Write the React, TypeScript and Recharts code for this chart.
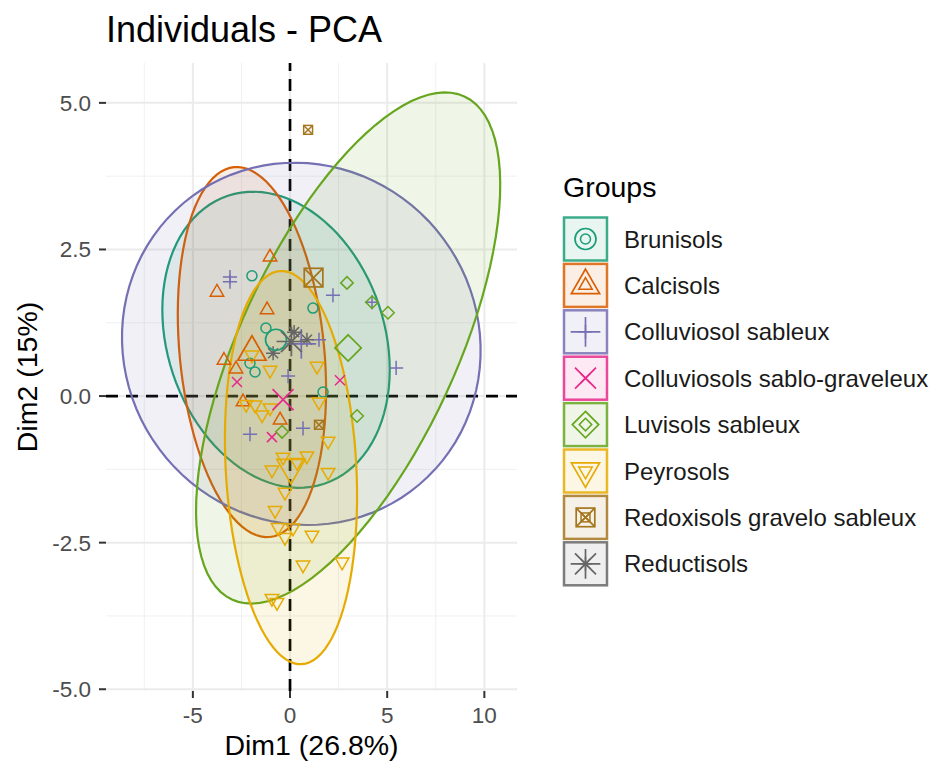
import { ScatterChart, Scatter, XAxis, YAxis, CartesianGrid, ReferenceLine } from "recharts";

const FONT = '"Liberation Sans", Arial, Helvetica, sans-serif';

const groups = [
  "Brunisols",
  "Calcisols",
  "Colluviosol sableux",
  "Colluviosols sablo-graveleux",
  "Luvisols sableux",
  "Peyrosols",
  "Redoxisols gravelo sableux",
  "Reductisols",
];
const groupColors = ["#1B9E77", "#D95F02", "#7570B3", "#E7298A", "#66A61E", "#E6AB02", "#A6761D", "#666666"];
const groupShapes = ["circle", "triangle", "plus", "cross", "diamond", "triangleDown", "squareX", "asterisk"];

// individuals, [Dim1, Dim2]
const brunisols = [[-1.96, 2.05], [-1.24, 1.16], [-2.06, 0.56], [-1.8, 0.41], [1.18, 1.5], [1.7, 0.07]];
const calcisols = [[-1.03, 2.37], [-3.76, 1.77], [-1.18, 1.47], [-3.4, 0.61], [-2.78, 0.46], [-2.42, -0.1], [-0.51, -0.41]];
const colluviosolSableux = [
  [-3.09, 2.03], [-3.09, 1.95], [2.21, 1.72], [4.22, 1.6], [5.46, 0.48],
  [1.49, 0.96], [-0.1, 0.34], [-2.06, -0.65], [0.67, -0.55],
];
const colluviosolsSabloGraveleux = [[-2.73, 0.24], [2.57, 0.27], [-0.93, -0.7]];
const luvisolsSableux = [[2.93, 1.93], [4.22, 1.6], [5.04, 1.42], [3.45, -0.34], [-0.41, -0.61]];
const peyrosols = [
  [-1.03, 0.44], [1.39, 0.51], [1.49, -0.1], [-1.8, -0.15], [-1.44, -0.32], [-1.03, -0.2],
  [1.96, -0.77], [-0.36, -1.04], [0.36, -1.13], [0.87, -1.02], [-0.93, -1.26], [1.96, -1.3],
  [-0.26, -1.64], [-0.77, -1.95], [-0.62, -2.24], [0.15, -2.25], [-0.26, -2.41], [1.13, -2.37],
  [0.67, -2.88], [2.68, -2.83], [-0.93, -3.45], [-0.67, -3.52], [-1.96, 0.7], [-2.26, -0.14],
];
const redoxisols = [[0.93, 4.54], [1.49, -0.49]];
const reductisols = [[-0.87, 0.73], [0.87, 0.96], [0.21, 1.09]];

const groupPoints = [
  brunisols, calcisols, colluviosolSableux, colluviosolsSabloGraveleux,
  luvisolsSableux, peyrosols, redoxisols, reductisols,
];

// group barycentres (big symbols, also the ellipse centres)
const groupMeans = [
  [-0.72, 0.96], [-1.96, 0.75], [0.58, 0.89], [-0.36, -0.06],
  [2.99, 0.82], [0.05, -1.22], [1.21, 2.02], [0.07, 0.93],
];

// concentration ellipses: conjugate semi-axes in Dim1/Dim2 units
const ellipseGroups = [0, 1, 2, 4, 5];
const ellipseAxisA = [[2.48, -2.456], [0.917, -3.154], [5.625, -2.516], [5.98, 4.29], [0.549, -3.353]];
const ellipseAxisB = [[5.3, 0.586], [3.704, 0.118], [7.315, 1.792], [-5.05, 0.772], [3.356, 0.0602]];

const xTicks = [-5, 0, 5, 10];
const xMinor = [-7.5, -2.5, 2.5, 7.5];
const yTicks = [-5, -2.5, 0, 2.5, 5];
const yMinor = [-3.75, -1.25, 1.25, 3.75];

const ELLIPSE_STEPS = 100;

function ellipseOutline(k: number) {
  const [cx, cy] = groupMeans[ellipseGroups[k]];
  const a = ellipseAxisA[k];
  const b = ellipseAxisB[k];
  const pts = [];
  for (let i = 0; i < ELLIPSE_STEPS; i++) {
    const t = (2 * Math.PI * i) / ELLIPSE_STEPS;
    pts.push({ x: cx + a[0] * Math.cos(t) + b[0] * Math.sin(t), y: cy + a[1] * Math.cos(t) + b[1] * Math.sin(t) });
  }
  return pts;
}

function Marker({ kind, cx, cy, r, color, sw = 1.5 }: any) {
  const common = { stroke: color, strokeWidth: sw, fill: "none" };
  switch (kind) {
    case "circle":
      return <circle cx={cx} cy={cy} r={r} {...common} />;
    case "triangle": {
      const t = r * 1.5551, w = r * 1.3468, b = r * 0.7776;
      return <polygon points={`${cx},${cy - t} ${cx + w},${cy + b} ${cx - w},${cy + b}`} {...common} />;
    }
    case "triangleDown": {
      const t = r * 1.5551, w = r * 1.3468, b = r * 0.7776;
      return <polygon points={`${cx},${cy + t} ${cx + w},${cy - b} ${cx - w},${cy - b}`} {...common} />;
    }
    case "plus": {
      const h = r * 1.414;
      return <path d={`M${cx - h},${cy}H${cx + h}M${cx},${cy - h}V${cy + h}`} {...common} />;
    }
    case "cross":
      return <path d={`M${cx - r},${cy - r}L${cx + r},${cy + r}M${cx - r},${cy + r}L${cx + r},${cy - r}`} {...common} />;
    case "diamond": {
      const d = r * 1.2533;
      return <polygon points={`${cx},${cy - d} ${cx + d},${cy} ${cx},${cy + d} ${cx - d},${cy}`} {...common} />;
    }
    case "squareX": {
      const s = r * 0.8862;
      return (
        <g {...common}>
          <rect x={cx - s} y={cy - s} width={2 * s} height={2 * s} />
          <path d={`M${cx - s},${cy - s}L${cx + s},${cy + s}M${cx - s},${cy + s}L${cx + s},${cy - s}`} />
        </g>
      );
    }
    case "asterisk": {
      const h = r * 1.414;
      return (
        <path
          d={`M${cx - r},${cy - r}L${cx + r},${cy + r}M${cx - r},${cy + r}L${cx + r},${cy - r}M${cx - h},${cy}H${cx + h}M${cx},${cy - h}V${cy + h}`}
          {...common}
        />
      );
    }
  }
  return null;
}

const toXY = (arr: number[][]) => arr.map(([x, y]) => ({ x, y }));

export default function App() {
  return (
    <div style={{ position: "absolute", left: 0, top: 0, width: 944, height: 766, background: "#fff" }}>
      <ScatterChart width={944} height={766} margin={{ top: 63, right: 427, bottom: 15, left: 0 }}>
        <CartesianGrid verticalValues={xMinor} horizontalValues={yMinor} stroke="#F0F0F0" strokeWidth={1} />
        <CartesianGrid verticalValues={xTicks} horizontalValues={yTicks} stroke="#EBEBEB" strokeWidth={2} />
        <XAxis
          type="number"
          dataKey="x"
          domain={[-9.47, 11.68]}
          allowDataOverflow
          ticks={xTicks}
          axisLine={false}
          tickSize={7}
          tickMargin={9}
          height={60}
          tickLine={{ stroke: "#333333", strokeWidth: 2 }}
          tick={{ fill: "#4D4D4D", fontSize: 22.5, fontFamily: FONT }}
        />
        <YAxis
          type="number"
          dataKey="y"
          domain={[-5.03, 5.68]}
          allowDataOverflow
          ticks={yTicks}
          tickFormatter={(v: number) => v.toFixed(1)}
          axisLine={false}
          tickSize={7}
          tickMargin={8}
          width={106}
          tickLine={{ stroke: "#333333", strokeWidth: 2 }}
          tick={{ fill: "#4D4D4D", fontSize: 22.5, fontFamily: FONT }}
        />
        {ellipseGroups.map((g, k) => (
          <Scatter
            key={"ell" + g}
            data={ellipseOutline(k)}
            isAnimationActive={false}
            shape={() => <g />}
            lineType="joint"
            line={(p: any) => (
              <path
                d={p.points.map((q: any, i: number) => `${i ? "L" : "M"}${q.x},${q.y}`).join("") + "Z"}
                fill={groupColors[g]}
                fillOpacity={0.1}
                stroke={groupColors[g]}
                strokeWidth={2.2}
              />
            )}
          />
        ))}
        <ReferenceLine x={0} stroke="#000" strokeWidth={2.7} strokeDasharray="12 8" />
        <ReferenceLine y={0} stroke="#000" strokeWidth={2.7} strokeDasharray="12 8" />
        {groupPoints.map((pts, g) => (
          <Scatter
            key={"pts" + g}
            name={groups[g]}
            data={toXY(pts)}
            isAnimationActive={false}
            shape={(p: any) => <Marker kind={groupShapes[g]} cx={p.cx} cy={p.cy} r={5} color={groupColors[g]} />}
          />
        ))}
        {groupMeans.map((m, g) => (
          <Scatter
            key={"mean" + g}
            data={toXY([m])}
            isAnimationActive={false}
            shape={(p: any) => (
              <Marker kind={groupShapes[g]} cx={p.cx} cy={p.cy} r={10.5} color={groupColors[g]} sw={1.7} />
            )}
          />
        ))}
      </ScatterChart>
      <svg
        width={944}
        height={766}
        style={{ position: "absolute", left: 0, top: 0, pointerEvents: "none" }}
        fontFamily={FONT}
      >
        <text x={106} y={42} fontSize={36} fill="#000">Individuals - PCA</text>
        <text x={311.5} y={755} fontSize={28.5} fill="#000" textAnchor="middle">Dim1 (26.8%)</text>
        <text x={37} y={377} fontSize={28.5} fill="#000" textAnchor="middle" transform="rotate(-90 37 377)">
          Dim2 (15%)
        </text>
        <text x={563} y={197} fontSize={28.5} fill="#000">Groups</text>
        {groups.map((name, g) => {
          const cy = 239 + g * 46.4;
          return (
            <g key={name}>
              <rect
                x={564}
                y={cy - 21.5}
                width={43}
                height={43}
                fill={groupColors[g]}
                fillOpacity={0.1}
                stroke={groupColors[g]}
                strokeOpacity={0.85}
                strokeWidth={2.5}
              />
              <Marker kind={groupShapes[g]} cx={585.5} cy={cy} r={10.5} color={groupColors[g]} sw={1.7} />
              <Marker kind={groupShapes[g]} cx={585.5} cy={cy} r={5} color={groupColors[g]} />
              <text x={624} y={cy + 8.5} fontSize={24} fill="#1a1a1a">{name}</text>
            </g>
          );
        })}
      </svg>
    </div>
  );
}
